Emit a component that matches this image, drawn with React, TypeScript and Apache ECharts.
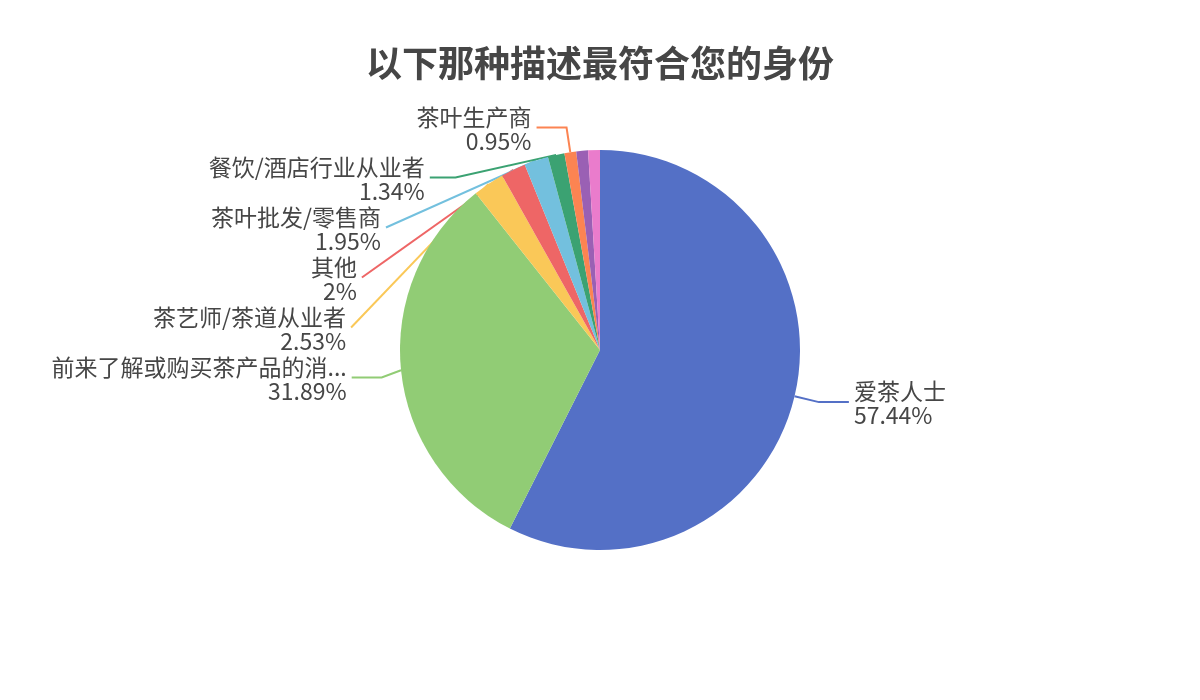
import React, { useEffect, useRef } from "react";
import * as echarts from "echarts";

const titleText = "以下那种描述最符合您的身份";

const categories = [
  "爱茶人士",
  "前来了解或购买茶产品的消费者",
  "茶艺师/茶道从业者",
  "其他",
  "茶叶批发/零售商",
  "餐饮/酒店行业从业者",
  "茶叶生产商",
  "茶叶研究/教育工作者",
  "媒体从业者",
];

const shares = [57.44, 31.89, 2.53, 2, 1.95, 1.34, 0.95, 0.95, 0.95];

// slices whose labels are left off
const unlabeled = ["茶叶研究/教育工作者", "媒体从业者"];

const palette = [
  "#5470c6",
  "#91cc75",
  "#fac858",
  "#ee6666",
  "#73c0de",
  "#3ba272",
  "#fc8452",
  "#9a60b4",
  "#ea7ccc",
];

export default function App() {
  const ref = useRef<HTMLDivElement>(null);

  useEffect(() => {
    if (!ref.current) return;
    const chart = echarts.init(ref.current, undefined, { renderer: "svg" });
    const font = "'Noto Sans CJK SC', 'Noto Sans', sans-serif";
    chart.setOption({
      animation: false,
      color: palette,
      title: {
        text: titleText,
        left: "center",
        top: 38,
        textStyle: {
          fontFamily: font,
          fontSize: 36,
          fontWeight: "bold",
          color: "#464646",
        },
      },
      series: [
        {
          type: "pie",
          center: ["50%", "50%"],
          radius: 200,
          startAngle: 90,
          data: categories.map((name, i) => ({
            name,
            value: shares[i],
            label: unlabeled.includes(name) ? { show: false } : undefined,
            labelLine: unlabeled.includes(name) ? { show: false } : undefined,
          })),
          label: {
            formatter: (p: any) => {
              const n: string = p.name;
              const shown = n.length > 12 ? n.slice(0, 12) + "..." : n;
              return shown + "\n" + p.percent + "%";
            },
            fontFamily: font,
            fontSize: 23,
            lineHeight: 24,
            color: "#464646",
          },
          labelLine: {
            length: 25,
            length2: 30,
            lineStyle: { width: 2 },
          },
        },
      ],
    });
    return () => chart.dispose();
  }, []);

  return (
    <div
      ref={ref}
      style={{ position: "fixed", left: 0, top: 0, width: 1200, height: 700 }}
    />
  );
}
